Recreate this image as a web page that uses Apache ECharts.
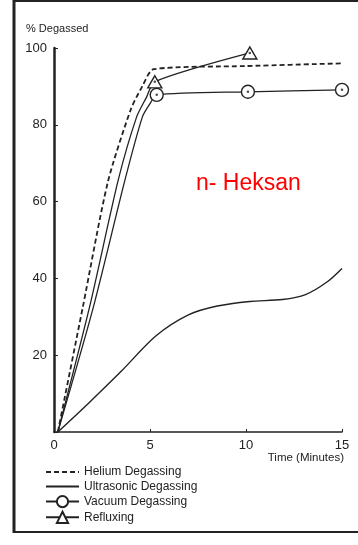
<!DOCTYPE html>
<html>
<head>
<meta charset="utf-8">
<script src="https://cdn.jsdelivr.net/npm/echarts@6/dist/echarts.min.js"></script>
<style>
html,body{margin:0;padding:0;background:#fff;}
#c{width:358px;height:545px;}
</style>
</head>
<body>
<div id="c"></div>
<script>
// ---- data ----
const seriesNames = ['Helium Degassing', 'Ultrasonic Degassing', 'Vacuum Degassing', 'Refluxing'];
const xTicks = [0, 5, 10, 15];
const yTicks = [0, 20, 40, 60, 80, 100];

const heliumX = [0.2, 1.5, 2.8, 4.0, 4.6, 5.2, 10, 15];
const heliumY = [0, 32.5, 65, 84, 90, 94.5, 95.3, 96];

const ultrasonicX = [0.2, 1.8, 3.5, 5.3, 7.0, 8.5, 10.2, 11.9, 13.1, 14.2, 15];
const ultrasonicY = [0, 7.5, 15.8, 25, 30.5, 32.8, 34, 34.5, 35.8, 39, 42.6];

// curve rising to first measured point (no marker), then measured points (marker)
const vacuumRiseX = [0.2, 2.05, 3.7, 4.6, 5.0];
const vacuumRiseY = [0, 32.5, 65.7, 82, 85.5];
const vacuumMeasX = [5.35, 10.1, 15];
const vacuumMeasY = [87.8, 88.6, 89.1];

const refluxRiseX = [0.2, 1.85, 3.35, 4.3, 4.8];
const refluxRiseY = [0, 32.5, 65.7, 82, 87];
const refluxMeasX = [5.25, 10.2];
const refluxMeasY = [91.2, 98.7];

const annotation = 'n- Heksan';
const yAxisTitle = '% Degassed';
const xAxisTitle = 'Time (Minutes)';

// ---- build ----
const pairs = (xs, ys) => xs.map((x, i) => [x, ys[i]]);
const withMarkers = (rx, ry, mx, my) =>
  pairs(rx, ry).map(v => ({ value: v, symbol: 'none' }))
    .concat(pairs(mx, my).map(v => ({ value: v })));

const INK = '#222';
const FONT = '"Liberation Sans", Arial, sans-serif';
const hidden = { color: 'rgba(0,0,0,0)', borderColor: 'rgba(0,0,0,0)', borderWidth: 0 };

const chart = echarts.init(document.getElementById('c'), null, { renderer: 'canvas' });
chart.setOption({
  animation: false,
  backgroundColor: '#fff',
  grid: { left: 54, right: 16, top: 48, bottom: 113 },
  xAxis: {
    type: 'value', min: xTicks[0], max: xTicks[xTicks.length - 1], interval: 5,
    axisLine: { lineStyle: { color: INK, width: 1.5 } },
    axisTick: { inside: true, length: 3, lineStyle: { color: INK } },
    axisLabel: { color: INK, fontSize: 13, fontFamily: FONT, margin: 7 },
    splitLine: { show: false }
  },
  yAxis: {
    type: 'value', min: yTicks[0], max: yTicks[yTicks.length - 1], interval: 20,
    axisLine: { show: true, lineStyle: { color: INK, width: 2.5 } },
    axisTick: { show: true, inside: true, length: 4, lineStyle: { color: INK } },
    axisLabel: { color: INK, fontSize: 13, fontFamily: FONT, margin: 7,
      formatter: v => (v === 0 ? '' : String(v)) },
    splitLine: { show: false }
  },
  legend: {
    data: [
      { name: seriesNames[0], itemStyle: hidden },
      { name: seriesNames[1], itemStyle: hidden },
      { name: seriesNames[2] },
      { name: seriesNames[3] }
    ],
    orient: 'vertical', left: 45, top: 466, padding: 0,
    itemWidth: 33, itemHeight: 14, itemGap: 2.5,
    selectedMode: false,
    textStyle: { color: INK, fontSize: 12, fontFamily: FONT }
  },
  series: [
    {
      name: seriesNames[0], type: 'line', data: pairs(heliumX, heliumY),
      symbol: 'none', smooth: 0.25,
      lineStyle: { color: INK, width: 1.8, type: [5, 3] },
      itemStyle: { color: INK }, z: 2
    },
    {
      name: seriesNames[1], type: 'line', data: pairs(ultrasonicX, ultrasonicY),
      symbol: 'none', smooth: 0.3,
      lineStyle: { color: INK, width: 1.4 },
      itemStyle: { color: INK }, z: 2
    },
    {
      name: seriesNames[2], type: 'line',
      data: withMarkers(vacuumRiseX, vacuumRiseY, vacuumMeasX, vacuumMeasY),
      symbol: 'circle', symbolSize: 13, showAllSymbol: true,
      smooth: 0.25,
      lineStyle: { color: INK, width: 1.3 },
      itemStyle: { color: '#fff', borderColor: INK, borderWidth: 1.4 }, z: 3
    },
    {
      name: seriesNames[3], type: 'line',
      data: withMarkers(refluxRiseX, refluxRiseY, refluxMeasX, refluxMeasY),
      symbol: 'triangle', symbolSize: [14, 12], showAllSymbol: true,
      smooth: 0.25,
      lineStyle: { color: INK, width: 1.3 },
      itemStyle: { color: '#fff', borderColor: INK, borderWidth: 1.4 }, z: 3
    },
    {
      name: 'dots', type: 'scatter',
      data: pairs(vacuumMeasX.concat(refluxMeasX), vacuumMeasY.concat(refluxMeasY)),
      symbol: 'circle', symbolSize: 2.5, itemStyle: { color: INK }, z: 5, silent: true
    }
  ],
  graphic: [
    { type: 'text', left: 26, top: 23,
      style: { text: yAxisTitle, font: '11px ' + FONT, fill: INK } },
    { type: 'text', right: 14, top: 452,
      style: { text: xAxisTitle, font: '11.5px ' + FONT, fill: INK } },
    { type: 'text', left: 196, top: 172,
      style: { text: annotation, font: '23px ' + FONT, fill: '#ff0000' } },
    { type: 'line', shape: { x1: 14, y1: 0, x2: 14, y2: 533 }, style: { stroke: INK, lineWidth: 3 } },
    { type: 'line', shape: { x1: 13, y1: 1, x2: 358, y2: 1 }, style: { stroke: INK, lineWidth: 2 } },
    { type: 'line', shape: { x1: 13, y1: 532, x2: 358, y2: 532 }, style: { stroke: INK, lineWidth: 2 } }
  ]
});
</script>
</body>
</html>
